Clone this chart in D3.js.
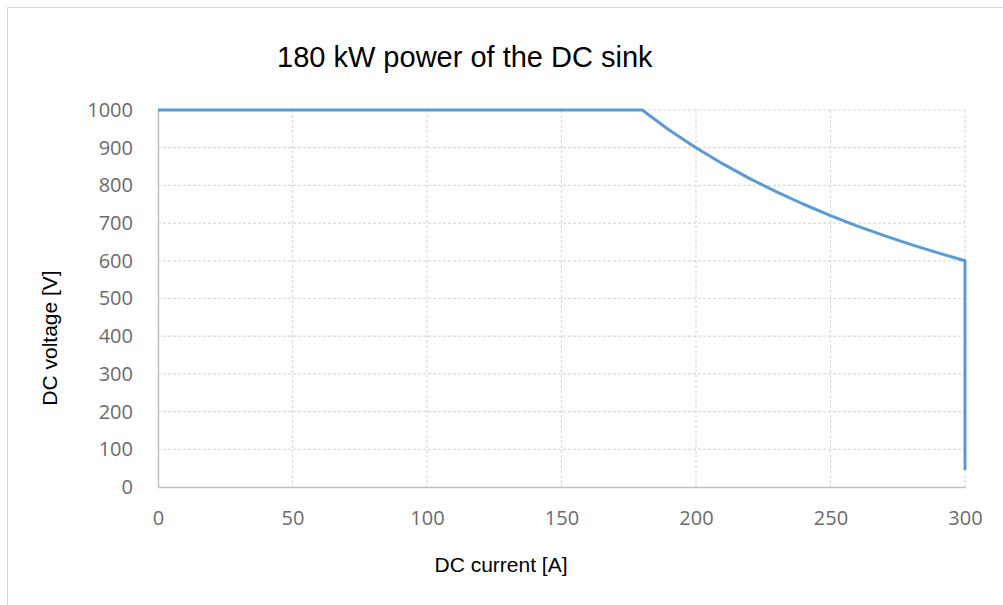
<!DOCTYPE html>
<html>
<head>
<meta charset="utf-8">
<script src="https://cdn.jsdelivr.net/npm/d3@7"></script>
<style>
	body { margin: 0; background: #fff; }
	svg { display: block; }
</style>
</head>
<body>
<div id="chart"></div>
<script>
// Sink limit curve: current [A] vs voltage [V]
const current = [0, 180, 190, 200, 210, 220, 230, 240, 250, 260, 270, 280, 290, 300, 300];
const voltage = [1000, 1000, 947, 900, 857, 818, 783, 750, 720, 692, 667, 643, 621, 600, 45];
const xTicks = [0, 50, 100, 150, 200, 250, 300];
const yTicks = [0, 100, 200, 300, 400, 500, 600, 700, 800, 900, 1000];

const width = 1003, height = 605;
const plot = { left: 158, right: 965, top: 110, bottom: 487 };

const svg = d3.select('#chart').append('svg')
				.attr('width', width)
				.attr('height', height);

// Chart border
svg.append('rect')
	.attr('x', 7.5).attr('y', 7.5)
	.attr('width', width + 10).attr('height', height + 10)
	.attr('fill', 'none')
	.attr('stroke', '#d9d9d9');

const x = d3.scaleLinear().domain([0, 300]).range([plot.left, plot.right]);
const y = d3.scaleLinear().domain([0, 1000]).range([plot.bottom, plot.top]);

// Grid
const grid = svg.append('g').attr('class', 'grid');
grid.selectAll('line.h')
	.data(yTicks.filter(d => d > 0))
	.join('line')
	.attr('x1', plot.left).attr('x2', plot.right)
	.attr('y1', d => y(d)).attr('y2', d => y(d))
	.attr('stroke', '#d9d9d9')
	.attr('stroke-width', 1.2)
	.attr('stroke-dasharray', '3,2');
grid.selectAll('line.v')
	.data(xTicks.filter(d => d > 0))
	.join('line')
	.attr('y1', plot.top).attr('y2', plot.bottom)
	.attr('x1', d => x(d)).attr('x2', d => x(d))
	.attr('stroke', '#d9d9d9')
	.attr('stroke-width', 1.2)
	.attr('stroke-dasharray', '3,2');

// Axes
const xAxis = d3.axisBottom(x).tickValues(xTicks).tickFormat(d3.format('d')).tickSize(0).tickPadding(24);
const yAxis = d3.axisLeft(y).tickValues(yTicks).tickFormat(d3.format('d')).tickSize(0).tickPadding(25);

const gx = svg.append('g')
	.attr('transform', `translate(0, ${plot.bottom})`)
	.call(xAxis);
const gy = svg.append('g')
	.attr('transform', `translate(${plot.left}, 0)`)
	.call(yAxis);

[gx, gy].forEach(g => {
	g.select('.domain').attr('stroke', '#bfbfbf').attr('stroke-width', 1.5);
	g.selectAll('text')
		.attr('font-family', '"Open Sans", sans-serif')
		.attr('font-size', 20)
		.attr('fill', '#6b6b6b');
});

// Line
const line = d3.line()
	.x((d, i) => x(current[i]))
	.y((d, i) => y(voltage[i]));

svg.append('path')
	.datum(current)
	.attr('d', line)
	.attr('fill', 'none')
	.attr('stroke', '#5b9bd5')
	.attr('stroke-width', 3)
	.attr('stroke-linejoin', 'round');

// Titles
svg.append('text')
	.attr('x', 277).attr('y', 67)
	.attr('font-family', '"Liberation Sans", Arial, sans-serif')
	.attr('font-size', 29)
	.attr('fill', '#000')
	.text('180 kW power of the DC sink');

svg.append('text')
	.attr('x', 501).attr('y', 572)
	.attr('text-anchor', 'middle')
	.attr('font-family', '"Liberation Sans", Arial, sans-serif')
	.attr('font-size', 21)
	.attr('fill', '#000')
	.text('DC current [A]');

svg.append('text')
	.attr('transform', 'translate(57, 338) rotate(-90)')
	.attr('text-anchor', 'middle')
	.attr('font-family', '"Liberation Sans", Arial, sans-serif')
	.attr('font-size', 21)
	.attr('fill', '#000')
	.text('DC voltage [V]');
</script>
</body>
</html>
